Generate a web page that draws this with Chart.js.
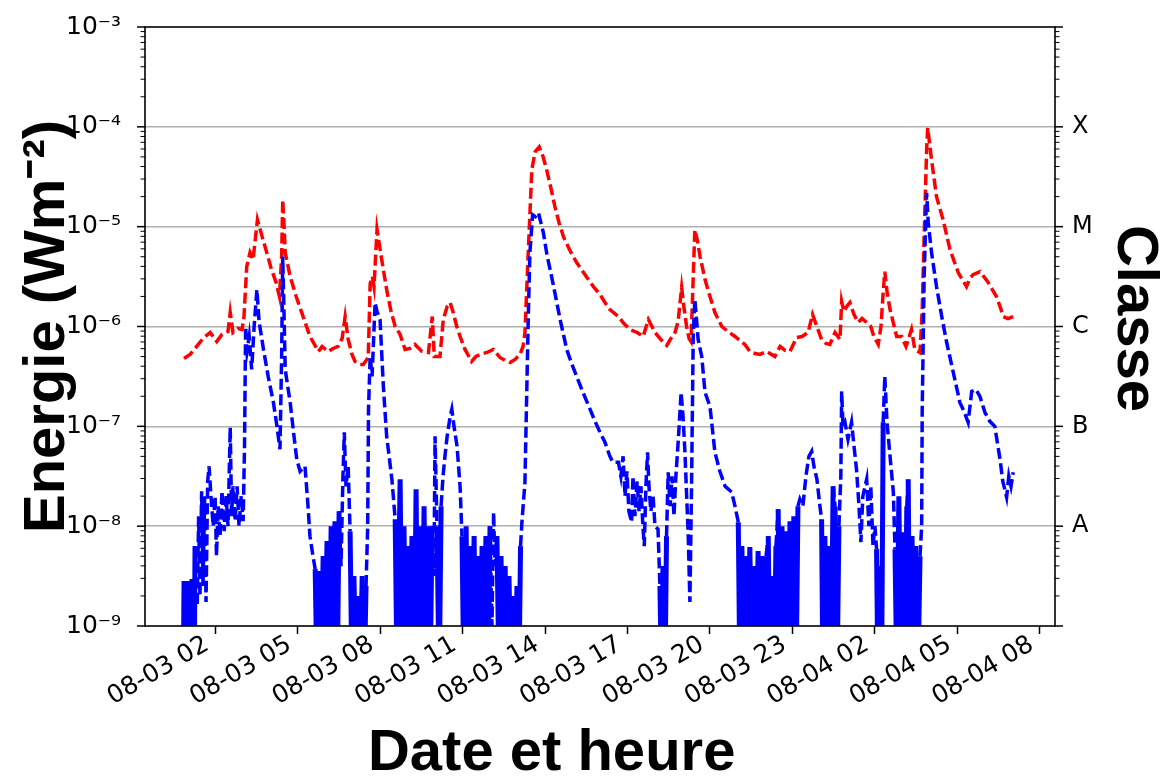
<!DOCTYPE html>
<html>
<head>
<meta charset="utf-8">
<title>Flux X</title>
<script src="https://cdn.jsdelivr.net/npm/chart.js@4.4.1/dist/chart.umd.min.js"></script>
<style>
body { margin: 0; background: #fff; }
#wrap { width: 1163px; height: 778px; position: relative; }
</style>
</head>
<body>
<div id="wrap"><canvas id="canvas"></canvas></div>
<script>
// time in hours since 08-03 00:00, flux given as log10(W m-2)
const redHours = [0.87,1.09,1.33,1.56,1.82,2.06,2.25,2.47,2.55,2.65,2.84,2.98,3.05,3.15,3.27,3.38,3.54,3.71,3.88,4.04,
  4.22,4.34,4.42,4.46,4.51,4.55,4.73,4.95,5.2,5.45,5.76,5.89,6.11,6.29,6.47,6.62,6.73,6.84,6.98,7.09,
  7.27,7.39,7.57,7.64,7.72,7.78,7.89,8.06,8.24,8.4,8.55,8.73,8.91,9.09,9.27,9.52,9.76,9.9,9.97,10.18,
  10.3,10.44,10.55,10.65,10.79,10.91,11.09,11.33,11.49,11.64,11.89,12.12,12.36,12.55,12.73,12.91,13.09,13.2,13.27,13.39,
  13.52,13.64,13.79,13.93,14.06,14.22,14.36,14.51,14.67,14.91,15.15,15.45,15.76,16.0,16.18,16.36,16.67,16.87,17.09,17.35,
  17.57,17.76,17.89,18.0,18.18,18.43,18.58,18.73,18.84,18.97,19.05,19.15,19.24,19.31,19.36,19.45,19.55,19.64,19.82,20.0,
  20.18,20.43,20.65,20.91,21.09,21.27,21.45,21.64,21.82,22.06,22.18,22.36,22.55,22.73,22.91,23.15,23.35,23.57,23.73,23.89,
  24.06,24.22,24.36,24.55,24.73,24.79,24.87,24.97,25.09,25.24,25.39,25.53,25.7,25.85,25.96,26.12,26.22,26.29,26.36,26.44,
  26.55,26.79,26.97,27.13,27.33,27.45,27.64,27.72,27.79,27.88,27.92,27.98,28.06,28.24,28.48,28.73,29.03,29.33,29.45,29.57,
  29.82,29.96,30.12,30.42,30.55,30.67,30.84,31.03];
const redLogFlux = [-6.32,-6.28,-6.2,-6.12,-6.06,-6.15,-6.08,-6.05,-5.86,-6.06,-6.02,-6.03,-5.9,-5.4,-5.26,-5.33,-4.93,-5.1,-5.26,-5.42,
  -5.56,-5.7,-5.3,-4.73,-5.0,-5.26,-5.5,-5.7,-5.9,-6.1,-6.25,-6.2,-6.25,-6.22,-6.2,-6.12,-5.9,-6.13,-6.28,-6.35,
  -6.38,-6.38,-6.31,-5.57,-5.5,-5.6,-5.03,-5.33,-5.63,-5.85,-6.0,-6.08,-6.23,-6.22,-6.18,-6.25,-6.26,-5.9,-6.3,-6.3,
  -5.93,-5.8,-5.76,-5.85,-6.0,-6.1,-6.23,-6.35,-6.3,-6.28,-6.26,-6.23,-6.31,-6.34,-6.36,-6.33,-6.28,-6.2,-6.06,-5.26,
  -4.43,-4.25,-4.2,-4.3,-4.43,-4.62,-4.8,-4.96,-5.1,-5.24,-5.36,-5.48,-5.6,-5.68,-5.76,-5.83,-5.9,-5.97,-6.03,-6.06,
  -6.1,-5.93,-6.0,-6.06,-6.12,-6.19,-6.12,-6.06,-5.95,-5.61,-5.8,-6.0,-6.12,-6.15,-5.76,-5.03,-5.15,-5.3,-5.53,-5.7,
  -5.86,-6.0,-6.05,-6.1,-6.14,-6.18,-6.25,-6.27,-6.28,-6.25,-6.27,-6.3,-6.2,-6.24,-6.25,-6.11,-6.1,-6.06,-5.88,-6.0,
  -6.13,-6.17,-6.18,-6.06,-6.13,-5.75,-5.85,-5.8,-5.76,-5.88,-5.96,-5.92,-5.96,-6.0,-6.1,-6.18,-6.0,-5.7,-5.45,-5.65,
  -5.83,-6.1,-6.1,-6.2,-6.03,-6.23,-6.26,-5.83,-5.1,-4.23,-4.01,-4.15,-4.33,-4.7,-4.93,-5.23,-5.46,-5.6,-5.52,-5.48,
  -5.45,-5.5,-5.56,-5.7,-5.8,-5.9,-5.92,-5.9];

const blueHours = [0.84,0.87,0.95,1.02,1.09,1.16,1.24,1.27,1.35,1.4,1.45,1.51,1.56,1.62,1.67,1.73,1.78,1.85,1.93,2.0,
  2.05,2.11,2.18,2.25,2.33,2.4,2.47,2.55,2.6,2.65,2.73,2.8,2.87,2.95,3.02,3.07,3.11,3.16,3.24,3.33,
  3.42,3.52,3.6,3.76,3.93,4.12,4.25,4.36,4.42,4.46,4.51,4.55,4.73,4.87,4.97,5.09,5.27,5.38,5.45,5.56,
  5.64,5.71,5.78,5.85,5.93,6.0,6.07,6.15,6.22,6.29,6.36,6.44,6.51,6.58,6.65,6.7,6.76,6.84,6.91,6.98,
  7.05,7.13,7.2,7.27,7.35,7.42,7.49,7.55,7.58,7.64,7.71,7.82,7.89,8.0,8.12,8.24,8.33,8.43,8.55,8.62,
  8.73,8.8,8.87,8.95,9.02,9.09,9.16,9.24,9.31,9.38,9.45,9.53,9.6,9.67,9.75,9.82,9.89,9.96,10.0,10.07,
  10.15,10.22,10.29,10.36,10.44,10.55,10.61,10.69,10.8,10.91,10.98,11.05,11.13,11.2,11.27,11.35,11.42,11.49,11.56,11.64,
  11.71,11.78,11.85,11.93,12.0,12.07,12.13,12.18,12.25,12.33,12.4,12.47,12.55,12.62,12.69,12.76,12.84,12.91,12.98,13.05,
  13.11,13.16,13.27,13.33,13.39,13.45,13.55,13.65,13.76,13.94,14.07,14.24,14.4,14.55,14.79,14.98,15.15,15.38,15.64,15.82,
  16.0,16.18,16.36,16.47,16.67,16.76,16.84,16.91,16.98,17.05,17.15,17.2,17.27,17.35,17.42,17.49,17.56,17.61,17.67,17.73,
  17.78,17.85,17.93,18.0,18.11,18.18,18.24,18.29,18.36,18.42,18.48,18.55,18.62,18.69,18.76,18.85,18.95,19.02,19.09,19.21,
  19.27,19.33,19.39,19.45,19.57,19.7,19.82,20.0,20.18,20.36,20.55,20.79,20.91,21.03,21.09,21.16,21.24,21.31,21.38,21.45,
  21.53,21.6,21.67,21.75,21.82,21.89,21.96,22.04,22.12,22.18,22.25,22.33,22.4,22.48,22.55,22.62,22.69,22.76,22.84,22.91,
  22.98,23.05,23.13,23.2,23.27,23.38,23.49,23.6,23.7,23.78,23.89,24.0,24.06,24.11,24.18,24.25,24.33,24.4,24.48,24.55,
  24.62,24.69,24.76,24.79,24.84,24.91,25.02,25.15,25.24,25.33,25.42,25.49,25.56,25.7,25.78,25.85,25.93,26.0,26.06,26.11,
  26.18,26.24,26.3,26.36,26.44,26.55,26.67,26.73,26.8,26.87,26.95,27.02,27.09,27.16,27.21,27.27,27.35,27.42,27.49,27.56,
  27.64,27.7,27.72,27.79,27.88,27.94,28.06,28.24,28.43,28.61,28.85,29.09,29.24,29.39,29.52,29.67,29.82,30.0,30.18,30.36,
  30.55,30.65,30.79,30.87,30.95,31.03];
const blueLogFlux = [-9.6,-8.55,-9.6,-8.55,-9.6,-8.53,-9.6,-8.2,-8.8,-7.9,-8.7,-7.65,-8.6,-7.7,-8.76,-7.55,-7.4,-7.7,-8.0,-7.7,
  -8.3,-7.8,-8.1,-7.65,-8.05,-7.7,-8.0,-7.01,-7.9,-7.6,-7.95,-7.6,-8.0,-7.7,-7.95,-7.2,-6.0,-6.25,-6.1,-6.43,
  -6.0,-5.63,-5.95,-6.23,-6.5,-6.76,-7.0,-7.23,-6.3,-5.3,-5.9,-6.43,-6.76,-7.1,-7.33,-7.45,-7.4,-7.8,-8.1,-8.3,
  -8.43,-9.6,-8.45,-9.6,-8.3,-9.6,-8.15,-9.6,-8.0,-9.6,-7.95,-9.6,-7.85,-8.4,-7.5,-7.06,-7.6,-7.4,-8.05,-9.6,
  -8.5,-9.6,-8.7,-9.6,-8.5,-9.6,-8.6,-8.0,-6.83,-6.3,-6.5,-5.76,-5.85,-5.93,-6.6,-7.1,-7.3,-7.53,-7.93,-9.6,
  -7.53,-9.6,-8.0,-9.6,-8.2,-9.6,-8.1,-9.6,-7.63,-9.6,-8.0,-9.6,-7.8,-9.6,-8.0,-9.6,-8.0,-8.5,-7.1,-8.0,
  -9.6,-7.8,-7.5,-7.3,-7.1,-6.9,-6.83,-7.0,-7.2,-7.6,-8.1,-9.6,-8.0,-9.6,-8.2,-9.6,-8.1,-9.6,-8.3,-9.6,
  -8.2,-9.6,-8.1,-9.6,-8.0,-9.0,-7.86,-8.4,-8.1,-9.6,-8.3,-9.6,-8.4,-9.6,-8.5,-9.6,-8.7,-9.6,-8.6,-9.6,
  -8.2,-7.96,-7.56,-6.73,-5.93,-5.26,-4.88,-4.9,-4.86,-5.06,-5.28,-5.5,-5.72,-5.93,-6.23,-6.38,-6.5,-6.66,-6.83,-6.95,
  -7.06,-7.16,-7.3,-7.36,-7.36,-7.5,-7.3,-7.7,-7.45,-7.85,-7.96,-7.5,-7.9,-7.55,-7.85,-7.6,-8.0,-8.2,-7.6,-7.26,
  -7.6,-7.85,-7.7,-8.0,-8.03,-8.6,-9.6,-8.4,-9.6,-8.1,-7.46,-7.8,-7.5,-7.9,-7.5,-7.13,-6.66,-6.9,-7.26,-8.1,
  -8.76,-7.6,-6.1,-5.73,-6.13,-6.3,-6.66,-6.8,-7.26,-7.45,-7.6,-7.66,-7.8,-7.96,-9.6,-8.2,-9.6,-8.3,-9.6,-8.21,
  -9.6,-8.4,-9.6,-8.25,-9.6,-8.3,-9.6,-8.3,-8.1,-9.6,-8.5,-9.6,-8.2,-7.83,-9.6,-8.0,-9.6,-8.05,-9.6,-7.95,
  -9.6,-7.9,-9.6,-7.8,-7.73,-7.8,-7.5,-7.3,-7.25,-7.4,-7.53,-7.8,-7.93,-9.6,-8.1,-9.6,-8.2,-9.6,-7.6,-7.8,
  -9.6,-8.0,-7.5,-6.65,-7.0,-6.96,-7.13,-6.96,-7.2,-7.43,-7.8,-8.16,-7.7,-7.53,-8.0,-7.6,-8.2,-8.0,-8.23,-9.6,
  -8.4,-9.6,-6.96,-6.5,-6.96,-7.3,-7.66,-8.23,-9.6,-7.7,-9.6,-8.06,-9.6,-7.8,-7.53,-9.6,-8.1,-9.6,-8.2,-9.6,
  -8.3,-8.0,-6.83,-5.5,-4.66,-4.96,-5.26,-5.6,-5.9,-6.16,-6.46,-6.76,-6.85,-6.96,-6.65,-6.63,-6.7,-6.86,-6.95,-7.0,
  -7.33,-7.55,-7.71,-7.5,-7.6,-7.46];

const xTickHours = [2,5,8,11,14,17,20,23,26,29,32];
const xTickLabels = ['08-03 02','08-03 05','08-03 08','08-03 11','08-03 14','08-03 17',
  '08-03 20','08-03 23','08-04 02','08-04 05','08-04 08'];
const yTickValues = [1e-9,1e-8,1e-7,1e-6,1e-5,1e-4,1e-3];
const yTickLabels = ['10⁻⁹','10⁻⁸','10⁻⁷','10⁻⁶','10⁻⁵','10⁻⁴','10⁻³'];
const classValues = [1e-8,1e-7,1e-6,1e-5,1e-4];
const classLabels = ['A','B','C','M','X'];

const toPoints = (hours, logs) => hours.map((h, i) => ({x: h, y: Math.pow(10, logs[i])}));

const tickFont = {family: 'DejaVu Sans', size: 25};
const titleFont = {family: 'Liberation Sans', size: 58, weight: 'bold', lineHeight: 0.9};
const dash = [11, 4.5];
// dense dips under the axis floor look solid in the original
const belowFloor = c => c.p0.parsed.y < yTickValues[0] || c.p1.parsed.y < yTickValues[0];
const segStyle = {
  borderDash: c => belowFloor(c) ? [] : undefined,
  borderWidth: c => belowFloor(c) ? 5 : undefined
};

// frame + log minor ticks on both vertical axes
const frameAndTicks = {
  id: 'frameAndTicks',
  afterDraw(chart) {
    const ctx = chart.ctx;
    const area = chart.chartArea;
    ctx.save();
    ctx.strokeStyle = '#000';
    ['y', 'y2'].forEach(id => {
      const scale = chart.scales[id];
      const edge = id === 'y' ? area.left : area.right;
      const dir = id === 'y' ? -1 : 1;
      for (let e = -9; e <= -3; e++) {
        for (let m = 1; m < 10; m++) {
          if (e === -3 && m > 1) break;
          const py = scale.getPixelForValue(m * Math.pow(10, e));
          ctx.lineWidth = m === 1 ? 1.5 : 1;
          ctx.beginPath();
          ctx.moveTo(edge, py);
          ctx.lineTo(edge + dir * (m === 1 ? 8 : 4.5), py);
          ctx.stroke();
        }
      }
    });
    ctx.lineWidth = 1.6;
    ctx.strokeRect(area.left, area.top, area.right - area.left, area.bottom - area.top);
    ctx.restore();
  }
};

const noOverhang = s => { s.paddingTop = 0; s.paddingBottom = 0; };

new Chart(document.getElementById('canvas'), {
  type: 'line',
  data: {
    datasets: [
      {label: 'long', data: toPoints(redHours, redLogFlux), borderColor: '#ff0000', borderWidth: 3.5,
        borderDash: dash, pointRadius: 0, tension: 0, order: 2},
      {label: 'short', data: toPoints(blueHours, blueLogFlux), borderColor: '#0000ff', borderWidth: 3.5,
        borderDash: dash, pointRadius: 0, tension: 0, order: 1, segment: segStyle}
    ]
  },
  options: {
    responsive: true,
    maintainAspectRatio: false,
    animation: false,
    layout: {padding: {top: 27, left: 0, right: 0, bottom: 0}},
    plugins: {legend: {display: false}, tooltip: {enabled: false}},
    scales: {
      x: {
        type: 'linear', min: -0.55, max: 32.55,
        afterBuildTicks: s => { s.ticks = xTickHours.map(v => ({value: v})); },
        afterFit: s => { s.height = 152; s.paddingLeft = 0; s.paddingRight = 0; },
        grid: {display: true, drawOnChartArea: false, drawTicks: true, tickLength: 8, tickColor: '#000', tickWidth: 1.5},
        border: {display: false},
        ticks: {autoSkip: false, maxRotation: 30, minRotation: 30, color: '#000', font: tickFont, padding: -4,
          labelOffset: -8, callback: (v, i) => xTickLabels[i]},
        title: {display: true, text: 'Date et heure      ', color: '#000', font: titleFont, padding: {top: 0, bottom: -2}}
      },
      y: {
        type: 'logarithmic', position: 'left', min: 1e-9, max: 1e-3,
        afterBuildTicks: s => { s.ticks = yTickValues.map(v => ({value: v})); },
        afterFit: s => { s.width = 145; noOverhang(s); },
        grid: {drawTicks: false, lineWidth: 1.5,
          color: c => (c.index === 0 || c.index === yTickValues.length - 1) ? 'rgba(0,0,0,0)' : '#b0b0b0'},
        border: {display: false},
        ticks: {padding: 24, color: '#000', font: tickFont, callback: (v, i) => yTickLabels[i]},
        title: {display: true, text: 'Energie (Wm⁻²)', color: '#000', font: titleFont, padding: {top: 22, bottom: 0}}
      },
      y2: {
        type: 'logarithmic', position: 'right', min: 1e-9, max: 1e-3,
        afterBuildTicks: s => { s.ticks = classValues.map(v => ({value: v})); },
        afterFit: s => { s.width = 108; noOverhang(s); },
        grid: {display: false, drawTicks: false},
        border: {display: false},
        ticks: {padding: 17, color: '#000', font: {family: 'DejaVu Sans', size: 24}, callback: (v, i) => classLabels[i]},
        title: {display: true, text: 'Classe ', color: '#000', font: titleFont, padding: {top: 3, bottom: 0}}
      }
    }
  },
  plugins: [frameAndTicks]
});
</script>
</body>
</html>
